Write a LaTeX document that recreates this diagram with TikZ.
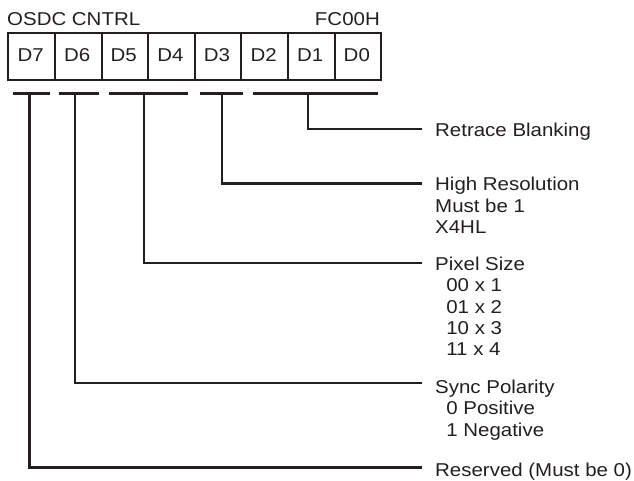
\documentclass[tikz,border=0pt]{standalone}
\usepackage{fontspec}
\setmainfont{Liberation Sans}[FakeStretch=1.1]
\definecolor{ink}{HTML}{231F20}
\begin{document}
\begin{tikzpicture}[x=1pt,y=-1pt,
  txt/.style={inner sep=0pt,text=ink,font=\fontsize{18.6}{21.3}\selectfont},
  cell/.style={draw=ink,line width=2pt,minimum width=46.6pt,minimum height=47.5pt,inner sep=0pt,anchor=north west},
  cellname/.style={txt,anchor=base},
  bar/.style={draw=ink,line width=3.3pt},
  conn/.style={draw=ink,line width=2.4pt},
  lbl/.style={txt,anchor=base west,align=left}]
\useasboundingbox (0,0) rectangle (634,480);
% title texts
\node[txt,anchor=base west] (title) at (7,25) {OSDC CNTRL};
\node[txt,anchor=base east] (addr) at (380,25) {FC00H};
% register cells
\foreach \i/\t in {0/D7,1/D6,2/D5,3/D4,4/D3,5/D2,6/D1,7/D0}{
  \node[cell] (c\i) at ({7.3+46.6*\i},31.7) {};
  \node[cellname] (n\i) at ({7.3+46.6*\i+23.3},61.7) {\t};
}
% field bars
\coordinate (b7a) at (13,93.3);  \coordinate (b7b) at (50,93.3);
\coordinate (b6a) at (59,93.3);  \coordinate (b6b) at (99,93.3);
\coordinate (b5a) at (109,93.3); \coordinate (b5b) at (188,93.3);
\coordinate (b3a) at (200,93.3); \coordinate (b3b) at (243,93.3);
\coordinate (b1a) at (253,93.3); \coordinate (b1b) at (378,93.3);
\foreach \b in {b7,b6,b5,b3,b1}{ \draw[bar] (\b a) -- (\b b); }
% stem start points
\coordinate (s1) at (308,93.3);
\coordinate (s3) at (222,93.3);
\coordinate (s5) at (144,93.3);
\coordinate (s6) at (75,93.3);
\coordinate (s7) at (29.5,93.3);
% connector ends
\coordinate (e1) at (422,129);
\coordinate (e3) at (422,183.3);
\coordinate (e5) at (422,262.7);
\coordinate (e6) at (422,382.7);
\coordinate (e7) at (422,467.3);
\draw[conn] (s1) |- (e1);
\draw[conn] (s3) |- (e3);
\draw[conn] (s5) |- (e5);
\draw[conn] (s6) |- (e6);
\draw[conn] (s7) |- (e7);
% labels (base anchor = baseline of the last line)
\node[lbl] (l1) at (435,136) {Retrace Blanking};
\node[lbl] (l3) at (435,233.4) {High Resolution\\Must be 1\\X4HL};
\node[lbl] (l5) at (435,355.7) {Pixel Size\\\hspace*{0.6em}00 x 1\\\hspace*{0.6em}01 x 2\\\hspace*{0.6em}10 x 3\\\hspace*{0.6em}11 x 4};
\node[lbl] (l6) at (435,436.1) {Sync Polarity\\\hspace*{0.6em}0 Positive\\\hspace*{0.6em}1 Negative};
\node[lbl] (l7) at (435,476.5) {Reserved (Must be 0)};
\end{tikzpicture}
\end{document}
